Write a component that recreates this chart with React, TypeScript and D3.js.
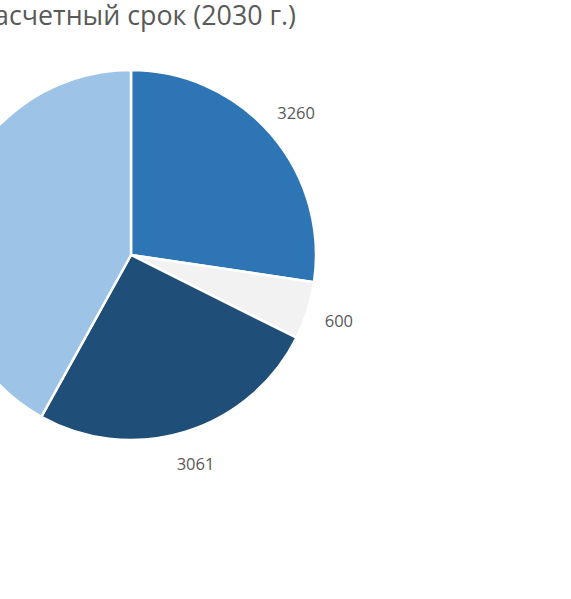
import React from "react";
import * as d3 from "d3";

const categories = ["Категория 1", "Категория 2", "Категория 3", "Категория 4"];
const values = [3260, 600, 3061, 5000];
const labels = ["3260", "600", "3061", ""];
const colors = ["#2E75B6", "#F2F2F2", "#1F4E79", "#9DC3E6"];
const title = "Расчетный срок (2030 г.)";

const W = 571;
const H = 599;
const cx = 131;
const cy = 255;
const R = 185;
const labelR = 218;

export default function App() {
  const pie = d3.pie<number>().sort(null).value((d) => d)(values);
  const arc = d3.arc<d3.PieArcDatum<number>>().innerRadius(0).outerRadius(R);
  const labelArc = d3
    .arc<d3.PieArcDatum<number>>()
    .innerRadius(labelR)
    .outerRadius(labelR);
  return (
    <div style={{ position: "fixed", left: 0, top: 0 }}>
      <svg width={W} height={H} style={{ display: "block", background: "#fff" }}>
        <text
          x={296}
          y={25}
          textAnchor="end"
          fontFamily="'Open Sans', sans-serif"
          fontSize={26.8}
          fill="#595959"
        >
          {title}
        </text>
        <g transform={`translate(${cx},${cy})`}>
          {pie.map((p, i) => (
            <path
              key={categories[i]}
              d={arc(p) || ""}
              fill={colors[i]}
              stroke="#fff"
              strokeWidth={2.5}
            />
          ))}
          {pie.map((p, i) => {
            const [x, y] = labelArc.centroid(p);
            return (
              <text
                key={"l" + i}
                x={x}
                y={y}
                textAnchor="middle"
                dominantBaseline="central"
                fontFamily="'Open Sans', sans-serif"
                fontSize={16.5}
                fill="#595959"
              >
                {labels[i]}
              </text>
            );
          })}
        </g>
      </svg>
    </div>
  );
}
